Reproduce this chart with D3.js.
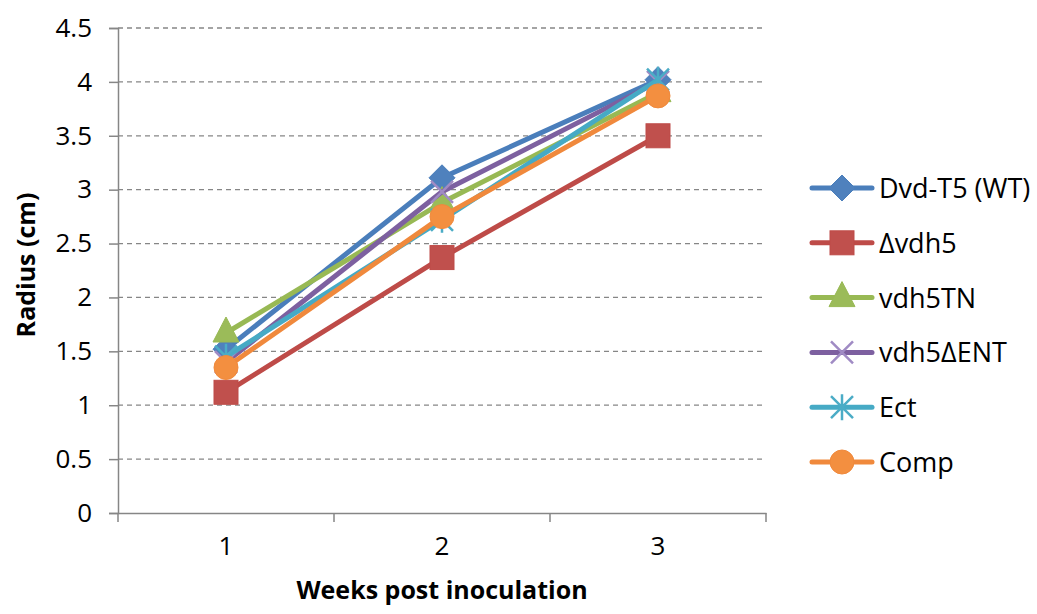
<!DOCTYPE html>
<html>
<head>
<meta charset="utf-8">
<script src="https://cdn.jsdelivr.net/npm/d3@7"></script>
<style>
  body { margin: 0; background: #fff; }
  text { font-family: "Open Sans", "DejaVu Sans", sans-serif; fill: #000; }
</style>
</head>
<body>
<script>
var w = 1037; // Width of the page
var h = 614;  // Height of the page

// Data
var weeks = ["1", "2", "3"];
var yTicks = [0, 0.5, 1, 1.5, 2, 2.5, 3, 3.5, 4, 4.5];
var seriesNames = ["Dvd-T5 (WT)", "\u0394vdh5", "vdh5TN", "vdh5\u0394ENT", "Ect", "Comp"];
var dvdT5 = [1.52, 3.11, 4.02];
var dvdh5 = [1.12, 2.37, 3.50];
var vdh5TN = [1.67, 2.88, 3.90];
var vdh5DENT = [1.40, 2.98, 4.00];
var ect = [1.45, 2.72, 4.02];
var comp = [1.35, 2.75, 3.87];

var seriesValues = [dvdT5, dvdh5, vdh5TN, vdh5DENT, ect, comp];
var colors = ["#4A7EBB", "#BE4B48", "#98B954", "#7D60A0", "#46AAC5", "#F0893C"];
var markerColors = ["#4F81BD", "#C0504D", "#9BBB59", "#A08BC4", "#4BACC6", "#F38F40"];
var shapes = ["diamond", "square", "triangle", "x", "star", "circle"];

var margin = { left: 118, right: 271, top: 28, bottom: 101 };

var xScale = d3.scaleBand()
    .domain(weeks)
    .range([margin.left, w - margin.right]);

var yScale = d3.scaleLinear()
    .domain([0, 4.5])
    .range([h - margin.bottom, margin.top]);

var svg = d3.select("body")
    .append("svg")
    .attr("width", w)
    .attr("height", h);

// Gridlines
svg.append("g")
    .selectAll("line")
    .data(yTicks.filter(function(d) { return d > 0; }))
    .join("line")
    .attr("x1", margin.left)
    .attr("x2", w - margin.right)
    .attr("y1", function(d) { return yScale(d); })
    .attr("y2", function(d) { return yScale(d); })
    .attr("stroke", "#868686")
    .attr("stroke-width", 1.3)
    .attr("stroke-dasharray", "5,4");

// Y axis
var yAxis = d3.axisLeft(yScale)
    .tickValues(yTicks)
    .tickSize(9)
    .tickPadding(17)
    .tickFormat(d3.format("~g"));

var gy = svg.append("g")
    .attr("transform", "translate(" + margin.left + ",0)")
    .call(yAxis);
gy.select(".domain").attr("stroke", "#868686").attr("stroke-width", 1.5);
gy.selectAll(".tick line").attr("stroke", "#868686").attr("stroke-width", 1.5);
gy.selectAll(".tick text").style("font-size", "26px").attr("fill", "#000");

// X axis
var xAxis = d3.axisBottom(xScale)
    .tickSize(0)
    .tickPadding(24);

var gx = svg.append("g")
    .attr("transform", "translate(0," + (h - margin.bottom) + ")")
    .call(xAxis);
gx.select(".domain").attr("stroke", "#868686").attr("stroke-width", 1.5);
gx.selectAll(".tick text").style("font-size", "26px").attr("fill", "#000");

// Tick marks between categories
gx.selectAll(".sep")
    .data(weeks.concat(["end"]))
    .join("line")
    .attr("class", "sep")
    .attr("x1", function(d, i) { return margin.left + i * xScale.bandwidth(); })
    .attr("x2", function(d, i) { return margin.left + i * xScale.bandwidth(); })
    .attr("y1", 0)
    .attr("y2", 9)
    .attr("stroke", "#868686")
    .attr("stroke-width", 1.5);

// Axis titles
svg.append("text")
    .attr("text-anchor", "middle")
    .attr("x", (margin.left + w - margin.right) / 2)
    .attr("y", 599)
    .style("font-size", "25px")
    .style("font-weight", "bold")
    .text("Weeks post inoculation");

svg.append("text")
    .attr("text-anchor", "middle")
    .attr("transform", "translate(35,265) rotate(-90)")
    .style("font-size", "25px")
    .style("font-weight", "bold")
    .text("Radius (cm)");

// Marker drawing
function drawMarker(g, shape, fill, stroke) {
    if (shape === "diamond") {
        g.append("path").attr("d", "M0,-13L13,0L0,13L-13,0Z").attr("fill", fill).attr("stroke", stroke).attr("stroke-width", 1);
    } else if (shape === "square") {
        g.append("rect").attr("x", -12).attr("y", -12).attr("width", 24).attr("height", 24).attr("fill", fill).attr("stroke", stroke).attr("stroke-width", 1);
    } else if (shape === "triangle") {
        g.append("path").attr("d", "M0,-16L13,9L-13,9Z").attr("fill", fill).attr("stroke", stroke).attr("stroke-width", 1);
    } else if (shape === "x") {
        g.append("path").attr("d", "M-11,-11L11,11M-11,11L11,-11").attr("stroke", fill).attr("stroke-width", 2.5);
    } else if (shape === "star") {
        g.append("path").attr("d", "M-11,-11L11,11M-11,11L11,-11M0,-13L0,13").attr("stroke", fill).attr("stroke-width", 2.5);
    } else if (shape === "circle") {
        g.append("circle").attr("r", 12).attr("fill", fill).attr("stroke", stroke).attr("stroke-width", 1);
    }
}

var line = d3.line()
    .x(function(d, i) { return xScale(weeks[i]) + xScale.bandwidth() / 2; })
    .y(function(d) { return yScale(d); });

// Series lines and markers
seriesValues.forEach(function(vals, s) {
    svg.append("path")
        .datum(vals)
        .attr("d", line)
        .attr("fill", "none")
        .attr("stroke", colors[s])
        .attr("stroke-width", 5)
        .attr("stroke-linejoin", "round")
        .attr("stroke-linecap", "round");

    vals.forEach(function(v, i) {
        var g = svg.append("g")
            .attr("transform", "translate(" + (xScale(weeks[i]) + xScale.bandwidth() / 2) + "," + yScale(v) + ")");
        drawMarker(g, shapes[s], markerColors[s], colors[s]);
    });
});

// Legend
var legend = svg.append("g");
seriesNames.forEach(function(name, s) {
    var ly = 188 + s * 54.8;
    legend.append("line")
        .attr("x1", 812).attr("x2", 872)
        .attr("y1", ly).attr("y2", ly)
        .attr("stroke", colors[s])
        .attr("stroke-width", 5)
        .attr("stroke-linecap", "round");
    var g = legend.append("g").attr("transform", "translate(842," + ly + ")");
    drawMarker(g, shapes[s], markerColors[s], colors[s]);
    legend.append("text")
        .attr("x", 879)
        .attr("y", ly + 10)
        .style("font-size", "27px")
        .text(name);
});
</script>
</body>
</html>
